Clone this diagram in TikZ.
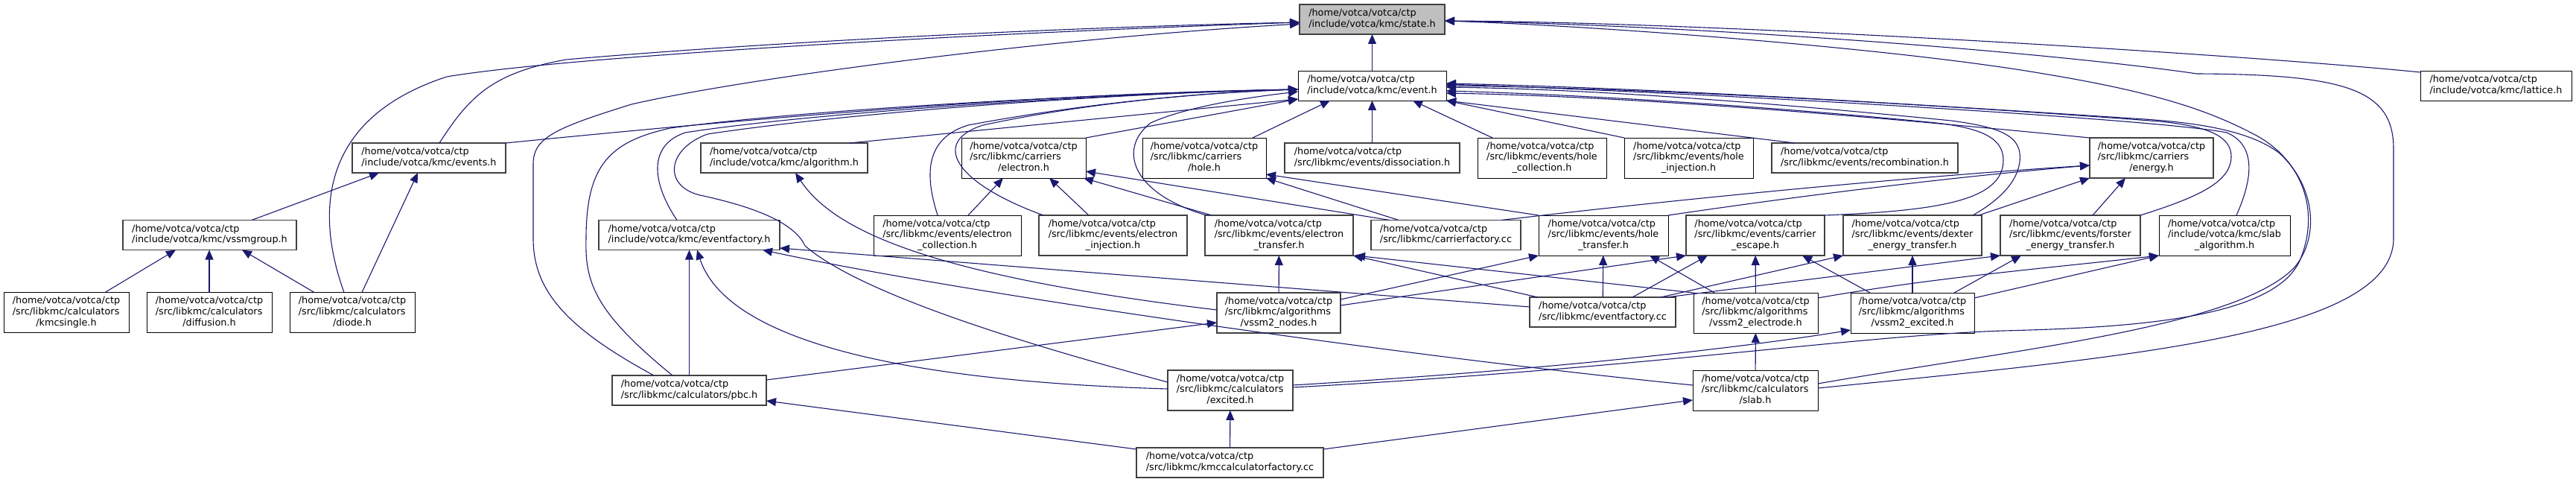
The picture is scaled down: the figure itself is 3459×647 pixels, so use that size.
\documentclass[tikz,border=0pt]{standalone}
\usepackage{fontspec}
\setmainfont{DejaVu Sans}
\usetikzlibrary{arrows.meta}
\definecolor{edgeblue}{HTML}{191970}
\definecolor{boxgray}{HTML}{404040}
\definecolor{statefill}{HTML}{BFBFBF}
\newcommand{\lblii}[2]{\begin{tabular}{@{}l@{}}#1\\\multicolumn{1}{@{}c@{}}{#2}\end{tabular}}
\newcommand{\lbliii}[3]{\begin{tabular}{@{}l@{}}#1\\#2\\\multicolumn{1}{@{}c@{}}{#3}\end{tabular}}
\newcommand{\hv}{/home/votca/votca/ctp}
\begin{document}
\begin{tikzpicture}[x=1pt,y=-1pt,
  nd/.style={draw=black,line width=0.9pt,fill=white,inner sep=0pt,outer sep=0pt,
     font=\fontsize{12.8}{14.7}\selectfont,minimum height=40pt},
  ndg/.style={nd,draw=boxgray,line width=1.3pt},
  three/.style={minimum height=54pt},
  edge/.style={draw=edgeblue,line width=1.1pt,-{Triangle[length=13pt,width=11pt]},fill=none}]
\useasboundingbox (0,0) rectangle (3459,647);
% rank 0
\node[ndg,fill=statefill,minimum width=195pt] (state) at (1842.5,26) {\lblii{\hv}{/include/votca/kmc/state.h}};
% rank 1
\node[nd,minimum width=199pt] (event) at (1842.5,115) {\lblii{\hv}{/include/votca/kmc/event.h}};
\node[nd,minimum width=203pt] (lattice) at (3351.5,115) {\lblii{\hv}{/include/votca/kmc/lattice.h}};
% rank 2
\node[ndg,minimum width=206pt] (events) at (576,212) {\lblii{\hv}{/include/votca/kmc/events.h}};
\node[ndg,minimum width=224pt] (algorithm) at (1053,212) {\lblii{\hv}{/include/votca/kmc/algorithm.h}};
\node[nd,three,minimum width=167pt] (electron) at (1374.5,212) {\lbliii{\hv}{/src/libkmc/carriers}{/electron.h}};
\node[nd,three,minimum width=166pt] (hole) at (1617,212) {\lbliii{\hv}{/src/libkmc/carriers}{/hole.h}};
\node[ndg,minimum width=235pt] (dissoc) at (1842.5,212) {\lblii{\hv}{/src/libkmc/events/dissociation.h}};
\node[nd,three,minimum width=173pt] (hcoll) at (2070.5,212) {\lbliii{\hv}{/src/libkmc/events/hole}{\_collection.h}};
\node[nd,three,minimum width=173pt] (hinj) at (2267.5,212) {\lbliii{\hv}{/src/libkmc/events/hole}{\_injection.h}};
\node[ndg,minimum width=250pt] (recomb) at (2504,212) {\lblii{\hv}{/src/libkmc/events/recombination.h}};
\node[ndg,three,minimum width=166pt] (energy) at (2889,212) {\lbliii{\hv}{/src/libkmc/carriers}{/energy.h}};
% rank 3
\node[ndg,minimum width=233pt] (vssmgroup) at (281.5,315.5) {\lblii{\hv}{/include/votca/kmc/vssmgroup.h}};
\node[ndg,minimum width=243pt] (efh) at (925.5,315.5) {\lblii{\hv}{/include/votca/kmc/eventfactory.h}};
\node[nd,three,minimum width=198pt] (ecoll) at (1272,316) {\lbliii{\hv}{/src/libkmc/events/electron}{\_collection.h}};
\node[ndg,three,minimum width=199pt] (einj) at (1494.5,316) {\lbliii{\hv}{/src/libkmc/events/electron}{\_injection.h}};
\node[ndg,three,minimum width=199pt] (etrans) at (1717.5,316) {\lbliii{\hv}{/src/libkmc/events/electron}{\_transfer.h}};
\node[ndg,minimum width=201pt] (cfac) at (1941.5,315.5) {\lblii{\hv}{/src/libkmc/carrierfactory.cc}};
\node[nd,three,minimum width=174pt] (htrans) at (2153,316) {\lbliii{\hv}{/src/libkmc/events/hole}{\_transfer.h}};
\node[ndg,three,minimum width=186pt] (cesc) at (2357,316) {\lbliii{\hv}{/src/libkmc/events/carrier}{\_escape.h}};
\node[ndg,three,minimum width=186pt] (dexter) at (2568,316) {\lbliii{\hv}{/src/libkmc/events/dexter}{\_energy\_transfer.h}};
\node[ndg,three,minimum width=188pt] (forster) at (2780,316) {\lbliii{\hv}{/src/libkmc/events/forster}{\_energy\_transfer.h}};
\node[nd,three,minimum width=176pt] (slabalg) at (2987,316) {\lbliii{\hv}{/include/votca/kmc/slab}{\_algorithm.h}};
% rank 4
\node[nd,three,minimum width=168pt] (kmcsingle) at (89,419.5) {\lbliii{\hv}{/src/libkmc/calculators}{/kmcsingle.h}};
\node[nd,three,minimum width=168pt] (diffusion) at (281,419.5) {\lbliii{\hv}{/src/libkmc/calculators}{/diffusion.h}};
\node[nd,three,minimum width=168pt] (diode) at (473,419.5) {\lbliii{\hv}{/src/libkmc/calculators}{/diode.h}};
\node[ndg,three,minimum width=166pt] (vnodes) at (1717,420) {\lbliii{\hv}{/src/libkmc/algorithms}{/vssm2\_nodes.h}};
\node[ndg,minimum width=196pt] (efcc) at (2152,419) {\lblii{\hv}{/src/libkmc/eventfactory.cc}};
\node[nd,three,minimum width=167pt] (velec) at (2357.5,420) {\lbliii{\hv}{/src/libkmc/algorithms}{/vssm2\_electrode.h}};
\node[nd,three,minimum width=166pt] (vexc) at (2568,420) {\lbliii{\hv}{/src/libkmc/algorithms}{/vssm2\_excited.h}};
% rank 5
\node[ndg,minimum width=207pt] (pbc) at (925.5,524) {\lblii{\hv}{/src/libkmc/calculators/pbc.h}};
\node[ndg,three,minimum width=168pt] (excited) at (1652,524) {\lbliii{\hv}{/src/libkmc/calculators}{/excited.h}};
\node[nd,three,minimum width=168pt] (slab) at (2357,524) {\lbliii{\hv}{/src/libkmc/calculators}{/slab.h}};
% rank 6
\node[ndg,minimum width=251pt] (kcf) at (1651.5,621) {\lblii{\hv}{/src/libkmc/kmccalculatorfactory.cc}};

% ---- edges into state.h
\draw[edge] (event) -- (state);
\draw[edge] ([xshift=14pt]events.north) .. controls (630,130) and (660,98) .. (760,80) .. controls (1050,55) and (1450,36) .. ([yshift=-4pt]state.west);
\draw[edge] ([xshift=-11pt]diode.north) .. controls (425,290) and (425,160) .. (600,103) .. controls (760,76) and (1300,45) .. ([yshift=-4pt]state.west);
\draw[edge] ([xshift=-47.5pt]pbc.north) .. controls (760,440) and (716,390) .. (716,320) -- (716,220) .. controls (716,185) and (745,172) .. (848,140) .. controls (1000,105) and (1400,52) .. ([yshift=-6pt]state.west);
\draw[edge] ([yshift=-2pt]lattice.north west) .. controls (3000,72) and (2300,30) .. ([yshift=-2pt]state.east);
\draw[edge] ([yshift=3pt]slab.east) .. controls (2850,480) and (3214,450) .. (3214,320) -- (3214,200) .. controls (3214,120) and (3150,100) .. (2950,99) .. controls (2750,70) and (2300,35) .. ([yshift=-2pt]state.east);
\draw[edge] ([yshift=4pt]excited.east) .. controls (2200,495) and (2500,450) .. (2690,444) .. controls (2850,440) and (3060,430) .. (3090,345) .. controls (3115,280) and (3090,215) .. (3030,182) .. controls (2970,150) and (2900,125) .. (2750,100) .. controls (2550,65) and (2150,35) .. ([yshift=-2pt]state.east);
% ---- edges into event.h
\draw[edge] ([xshift=-94pt]recomb.north) -- (event.south east);
\draw[edge] (hinj.north west) -- (event.south east);
\draw[edge] ([xshift=-66.5pt]hcoll.north) -- ([xshift=54.5pt]event.south);
\draw[edge] (dissoc) -- (event);
\draw[edge] ([xshift=65pt]hole.north) -- ([xshift=-56.5pt]event.south);
\draw[edge] (electron.north east) -- ([yshift=2pt]event.south west);
\draw[edge] ([xshift=88pt]algorithm.north) -- ([yshift=2pt]event.south west);
\draw[edge] (events.north east) .. controls (1000,160) and (1400,125) .. ([yshift=-5pt]event.west);
\draw[edge] ([xshift=-22.5pt]pbc.north) .. controls (800,420) and (785,380) .. (787,320) .. controls (787,220) and (820,190) .. (900,172) .. controls (1100,145) and (1500,125) .. ([yshift=-5pt]event.west);
\draw[edge] ([xshift=-16.5pt]efh.north) .. controls (875,245) and (870,195) .. (920,178) .. controls (1100,150) and (1500,125) .. ([yshift=-5pt]event.west);
\draw[edge] ([yshift=11pt]excited.west) .. controls (1350,455) and (1150,390) .. (1081,330) .. controls (1065,295) and (1000,275) .. (940,262) .. controls (890,250) and (895,200) .. (950,180) .. controls (1150,150) and (1500,125) .. ([yshift=-5pt]event.west);
\draw[edge] ([xshift=-13pt]ecoll.north) .. controls (1240,230) and (1245,185) .. (1300,168) .. controls (1450,140) and (1600,125) .. ([yshift=-5pt]event.west);
\draw[edge] ([xshift=-93.5pt]einj.north) .. controls (1280,245) and (1250,190) .. (1320,168) .. controls (1450,140) and (1600,125) .. ([yshift=-5pt]event.west);
\draw[edge] ([xshift=-97.5pt]etrans.north) .. controls (1520,260) and (1500,200) .. (1545,165) .. controls (1600,140) and (1700,128) .. ([yshift=-8pt]event.west);
\draw[edge] (energy.north west) .. controls (2500,155) and (2200,130) .. ([yshift=-10pt]event.east);
\draw[edge] (cesc.north east) .. controls (2600,283) and (2690,270) .. (2690,215) .. controls (2690,185) and (2660,172) .. (2600,165) .. controls (2400,145) and (2150,128) .. ([yshift=-7pt]event.east);
\draw[edge] ([xshift=81pt]dexter.north) .. controls (2700,260) and (2715,230) .. (2712,205) .. controls (2708,180) and (2680,170) .. (2620,162) .. controls (2400,140) and (2150,120) .. ([yshift=-2pt]event.east);
\draw[edge] (forster.north east) .. controls (2950,265) and (2996,245) .. (2996,210) .. controls (2996,185) and (2970,170) .. (2900,163) .. controls (2600,140) and (2200,118) .. (event.east);
\draw[edge] ([xshift=16pt]slabalg.north) .. controls (3025,240) and (3030,195) .. (2990,178) .. controls (2900,160) and (2300,125) .. ([yshift=2pt]event.east);
\draw[edge] ([yshift=9pt]slab.east) .. controls (2700,470) and (3000,440) .. (3080,360) .. controls (3115,320) and (3110,250) .. (3060,205) .. controls (3020,175) and (2950,165) .. (2880,160) .. controls (2500,135) and (2200,118) .. ([yshift=3pt]event.east);
% ---- carriers
\draw[edge] ([xshift=28pt]ecoll.north) -- ([xshift=-27.5pt]electron.south);
\draw[edge] ([xshift=-32.5pt]einj.north) -- ([xshift=34.5pt]electron.south);
\draw[edge] ([xshift=-90.5pt]etrans.north) -- ([xshift=-3pt]electron.south east);
\draw[edge] ([xshift=-75.5pt]cfac.north) -- ([yshift=-18pt]electron.east);
\draw[edge] ([xshift=-63.5pt]cfac.north) -- (hole.south east);
\draw[edge] (htrans.north west) -- ([yshift=-22pt]hole.east);
\draw[edge] ([xshift=74.5pt]cfac.north) .. controls (2300,262) and (2600,235) .. ([yshift=-10pt]energy.west);
\draw[edge] (htrans.north east) .. controls (2450,258) and (2650,235) .. ([yshift=-10pt]energy.west);
\draw[edge] ([xshift=-4pt]dexter.north east) -- (energy.south west);
\draw[edge] ([xshift=30pt]forster.north) -- ([xshift=-35pt]energy.south);
% ---- left group
\draw[edge] ([xshift=56.5pt]vssmgroup.north) -- ([xshift=-67pt]events.south);
\draw[edge] ([xshift=13pt]diode.north) -- ([xshift=-15pt]events.south);
\draw[edge] ([xshift=52pt]kmcsingle.north) -- ([xshift=-45.5pt]vssmgroup.south);
\draw[edge] (diffusion.north) -- (diffusion.north |- vssmgroup.south);
\draw[edge] ([xshift=-51pt]diode.north) -- ([xshift=43.5pt]vssmgroup.south);
% ---- algorithm / eventfactory
\draw[edge] ([yshift=4pt]vnodes.west) .. controls (1250,370) and (1120,310) .. ([xshift=15pt]algorithm.south);
\draw[edge] (pbc) -- (efh);
\draw[edge] ([yshift=2pt]excited.west) .. controls (1150,510) and (970,440) .. ([xshift=10.5pt]efh.south);
\draw[edge] ([yshift=7pt]efcc.west) -- ([yshift=-17.5pt]efh.east);
\draw[edge] ([yshift=7pt]slab.west) .. controls (1900,480) and (1300,395) .. ([xshift=98.5pt]efh.south);
\draw[edge] ([yshift=14pt]pbc.east) -- ([yshift=-13pt]vnodes.west);
\draw[edge] ([yshift=-2pt]kcf.north west) -- ([yshift=-14pt]pbc.east);
\draw[edge] (kcf) -- (excited);
\draw[edge] ([yshift=-2pt]kcf.north east) -- ([yshift=-13pt]slab.west);
\draw[edge] (slab) -- (velec);
\draw[edge] ([yshift=7pt]excited.east) .. controls (2100,495) and (2350,465) .. ([yshift=-23pt]vexc.west);
% ---- algorithms -> events
\draw[edge] (vnodes) -- (etrans);
\draw[edge] ([yshift=18pt]vnodes.east) -- (htrans.south west);
\draw[edge] ([yshift=10pt]vnodes.east) -- (cesc.south west);
\draw[edge] ([xshift=-87pt]efcc.north) -- (etrans.south east);
\draw[edge] (velec.north west) -- ([xshift=3pt]etrans.south east);
\draw[edge] (efcc) -- (htrans);
\draw[edge] ([xshift=-55.5pt]velec.north) -- ([xshift=62pt]htrans.south);
\draw[edge] ([xshift=40pt]efcc.north) -- ([xshift=-64pt]cesc.south);
\draw[edge] ([xshift=78pt]efcc.north) -- (dexter.south west);
\draw[edge] ([xshift=86pt]efcc.north) -- (forster.south west);
\draw[edge] (velec) -- (cesc);
\draw[edge] ([xshift=-57pt]vexc.north) -- ([xshift=63pt]cesc.south);
\draw[edge] (vexc) -- (dexter);
\draw[edge] ([xshift=56pt]vexc.north) -- ([xshift=-66pt]forster.south);
\draw[edge] ([yshift=20pt]velec.east) .. controls (2600,372) and (2750,360) .. (slabalg.south west);
\draw[edge] ([yshift=20pt]vexc.east) -- (slabalg.south west);
\end{tikzpicture}
\end{document}
